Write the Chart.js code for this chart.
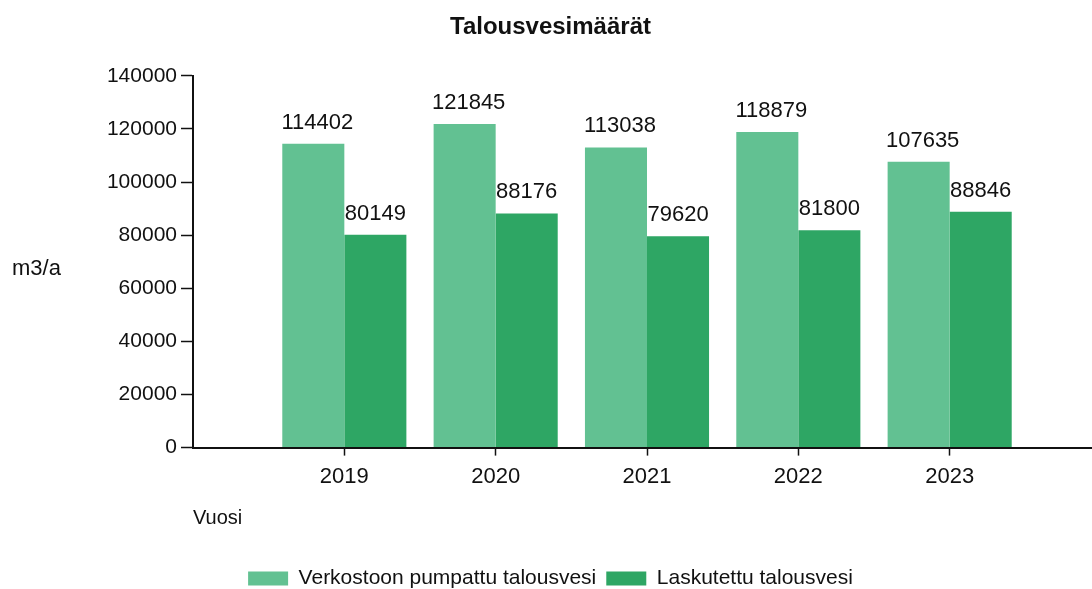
<!DOCTYPE html>
<html>
<head>
<meta charset="utf-8">
<script src="https://cdn.jsdelivr.net/npm/chart.js@4"></script>
<style>
  html, body { margin: 0; padding: 0; background: #fff; overflow: hidden; }
  #wrap { width: 1092px; height: 589px; overflow: hidden; }
</style>
</head>
<body>
<div id="wrap"><canvas id="myChart" width="1101" height="589"></canvas></div>
<script>
const years = ['2019', '2020', '2021', '2022', '2023'];
const pumped = [114402, 121845, 113038, 118879, 107635];
const billed = [80149, 88176, 79620, 81800, 88846];
const yTicks = [0, 20000, 40000, 60000, 80000, 100000, 120000, 140000];

const FONT = "'Liberation Sans', Arial, sans-serif";

// empty slot at both ends so the years sit away from the y axis
const labels = [''].concat(years, ['']);
const pad = arr => [null].concat(arr, [null]);

const valueLabels = {
    id: 'valueLabels',
    afterDatasetsDraw(chart) {
        const ctx = chart.ctx;
        ctx.save();
        ctx.font = '22px ' + FONT;
        ctx.fillStyle = '#111';
        ctx.textAlign = 'center';
        ctx.textBaseline = 'bottom';
        chart.data.datasets.forEach((ds, i) => {
            chart.getDatasetMeta(i).data.forEach((bar, j) => {
                const v = ds.data[j];
                if (v == null) return;
                ctx.fillText(String(v), bar.x + (i === 0 ? 4 : 0), bar.y - 10);
            });
        });
        ctx.restore();
    }
};

const unitLabel = {
    id: 'unitLabel',
    afterDraw(chart) {
        const ctx = chart.ctx;
        const area = chart.chartArea;
        ctx.save();
        ctx.font = '22px ' + FONT;
        ctx.fillStyle = '#111';
        ctx.textAlign = 'left';
        ctx.textBaseline = 'middle';
        ctx.fillText('m3/a', 12, area.top + (area.bottom - area.top) * 0.52);
        ctx.restore();
    }
};

const ctx = document.getElementById('myChart').getContext('2d');
new Chart(ctx, {
    type: 'bar',
    data: {
        labels: labels,
        datasets: [{
            label: 'Verkostoon pumpattu talousvesi',
            data: pad(pumped),
            backgroundColor: '#62c192',
            borderWidth: 0
        }, {
            label: 'Laskutettu talousvesi',
            data: pad(billed),
            backgroundColor: '#2ea664',
            borderWidth: 0
        }]
    },
    options: {
        responsive: false,
        animation: false,
        layout: { padding: { left: 0, right: 0, top: 0, bottom: -10 } },
        datasets: {
            bar: { categoryPercentage: 0.82, barPercentage: 1.0 }
        },
        scales: {
            x: {
                offset: false,
                afterFit: scale => { scale.paddingLeft = 0; scale.paddingRight = 0; },
                grid: {
                    offset: false,
                    drawOnChartArea: false,
                    tickLength: 8,
                    tickWidth: 1.5,
                    tickColor: c => (c.index === 0 || c.index === labels.length - 1) ? 'rgba(0,0,0,0)' : '#111'
                },
                border: { display: true, color: '#111', width: 2 },
                ticks: {
                    color: '#111',
                    font: { family: FONT, size: 22 },
                    padding: 8,
                    maxRotation: 0,
                    autoSkip: false
                },
                title: {
                    display: true,
                    text: 'Vuosi',
                    align: 'start',
                    color: '#111',
                    font: { family: FONT, size: 20 },
                    padding: { top: 8, bottom: 28 }
                }
            },
            y: {
                min: 0,
                max: 140000,
                afterBuildTicks: scale => { scale.ticks = yTicks.map(v => ({ value: v })); },
                afterFit: scale => { scale.width = 193; },
                grid: {
                    drawOnChartArea: false,
                    tickLength: 12,
                    tickWidth: 1.5,
                    tickColor: '#111'
                },
                border: { display: true, color: '#111', width: 2 },
                ticks: {
                    color: '#111',
                    font: { family: FONT, size: 21 },
                    padding: 4,
                    callback: v => String(v)
                }
            }
        },
        plugins: {
            title: {
                display: true,
                text: 'Talousvesimäärät',
                color: '#111',
                font: { family: FONT, size: 24, weight: 'bold' },
                padding: { top: 13, bottom: 34 }
            },
            legend: {
                position: 'bottom',
                labels: {
                    boxWidth: 40,
                    boxHeight: 14,
                    padding: 10,
                    color: '#111',
                    font: { family: FONT, size: 21 }
                }
            },
            tooltip: { enabled: false }
        }
    },
    plugins: [valueLabels, unitLabel]
});
</script>
</body>
</html>
